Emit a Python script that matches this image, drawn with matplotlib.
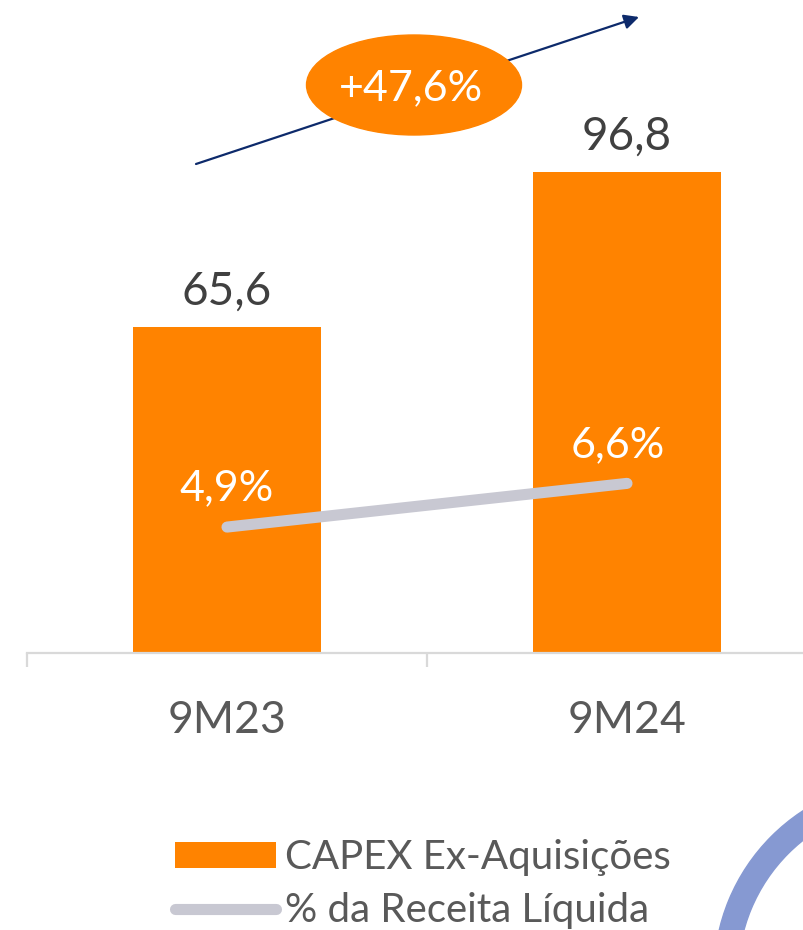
import numpy as np
import matplotlib
matplotlib.use("Agg")
import matplotlib.pyplot as plt
from matplotlib.patches import Ellipse, Wedge, Patch
from matplotlib.lines import Line2D

plt.rcParams['font.family'] = ['Lato', 'DejaVu Sans']

periods = ["9M23", "9M24"]
capex = [65.6, 96.8]
capex_labels = ["65,6", "96,8"]
pct_receita = [4.9, 6.6]
pct_labels = ["4,9%", "6,6%"]
growth_label = "+47,6%"

orange = "#FF8300"
gray_line = "#C8C8D2"
txt_dark = "#404040"
txt_tick = "#595959"

fig = plt.figure(figsize=(8.04, 9.30), dpi=100)
W, H = 804, 930

# main axes: baseline at y=653 px, categories 400 px apart
ax = fig.add_axes([27 / W, (H - 653) / H, 800 / W, 646 / H])
x = np.arange(len(periods))
ymax = 646 / 4.97
ax.bar(x, capex, width=0.47, color=orange, zorder=2)
ax.set_xlim(-0.5, 1.5)
ax.set_ylim(0, ymax)

for xi, v, lab in zip(x, capex, capex_labels):
    ax.annotate(lab, (xi, v), xytext=(0, 10), textcoords="offset points",
                ha="center", va="bottom", fontsize=33, color=txt_dark)

for s in ["top", "right", "left"]:
    ax.spines[s].set_visible(False)
ax.spines["bottom"].set_color("#D9D9D9")
ax.spines["bottom"].set_linewidth(1.6)
ax.set_yticks([])
ax.set_xticks(x)
ax.set_xticklabels(periods, fontsize=32, color=txt_tick)
ax.set_xticks([-0.5, 0.5, 1.5], minor=True)
ax.tick_params(axis="x", which="major", length=0, pad=34)
ax.tick_params(axis="x", which="minor", length=10, width=1.6, color="#D9D9D9")
ax.patch.set_visible(False)

# secondary axis for % of net revenue
ax2 = ax.twinx()
ax2.set_ylim(0, 646 / 25.7)
ax2.plot(x, pct_receita, color=gray_line, lw=8, solid_capstyle="round", zorder=3)
ax2.axis("off")
offsets = [(0, 14), (-7, 14)]
for xi, v, lab, off in zip(x, pct_receita, pct_labels, offsets):
    ax2.annotate(lab, (xi, v), xytext=off, textcoords="offset points",
                 ha="center", va="bottom", fontsize=31, color="white")

# decorations in pixel coordinates
ov = fig.add_axes([0, 0, 1, 1], zorder=5)
ov.set_xlim(0, W)
ov.set_ylim(H, 0)
ov.axis("off")
ov.patch.set_visible(False)
ov.annotate("", xy=(639, 17), xytext=(196, 164),
            arrowprops=dict(arrowstyle="-|>", color="#0D2A6B", lw=1.6,
                            mutation_scale=22, shrinkA=0, shrinkB=0))
ov.add_patch(Ellipse((414, 85), 215, 100, color=orange, zorder=3))
ov.text(411, 88, growth_label, ha="center", va="center", fontsize=31,
        color="white", zorder=4)
ov.add_patch(Wedge((910, 975), 196, 0, 360, width=24, color="#8699D2"))

handles = [Patch(facecolor=orange, edgecolor="none"),
           Line2D([], [], color=gray_line, lw=8, solid_capstyle="round")]
fig.legend(handles, ["CAPEX Ex-Aquisições", "% da Receita Líquida"],
           loc="upper left", bbox_to_anchor=(175 / W, 1 - 839 / H),
           frameon=False, fontsize=29, handlelength=2.5, handleheight=0.6,
           handletextpad=0.22, labelspacing=0.4, labelcolor=txt_tick,
           borderpad=0, borderaxespad=0)

fig.savefig("out.png", dpi=100)
